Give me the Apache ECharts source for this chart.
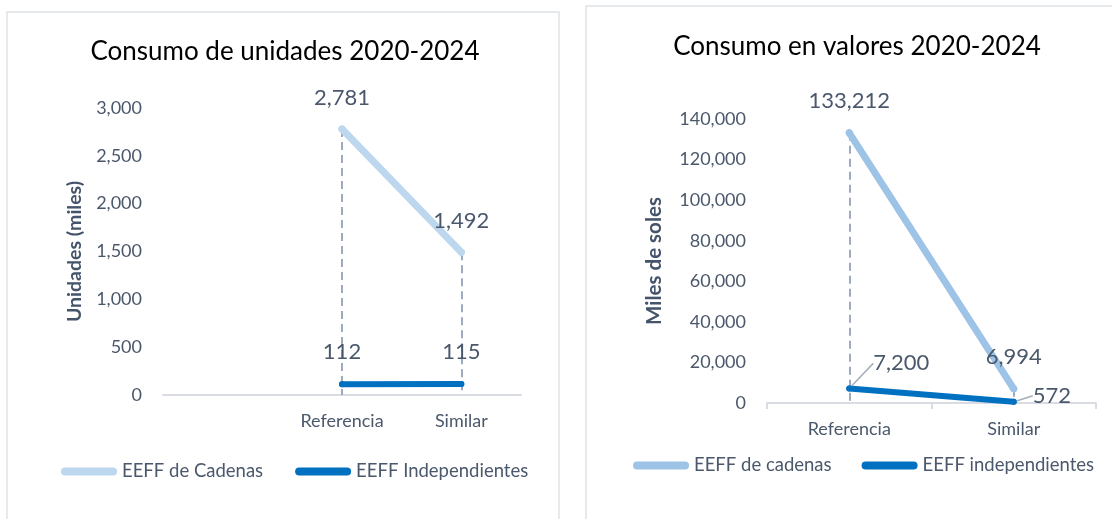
<!DOCTYPE html>
<html>
<head>
<meta charset="utf-8">
<script src="https://cdn.jsdelivr.net/npm/echarts@6/dist/echarts.min.js"></script>
<style>
html,body{margin:0;padding:0;background:#fff;}
#c{width:1112px;height:519px;}
</style>
</head>
<body>
<div id="c"></div>
<script>
// ---- Data ----
var unitsCategories = ['', 'Referencia', 'Similar'];
var unitsCadenas = [null, 2781, 1492];
var unitsIndependientes = [null, 112, 115];
var unitsTicks = {min: 0, max: 3000, interval: 500};

var valuesCategories = ['Referencia', 'Similar'];
var valuesCadenas = [133212, 6994];
var valuesIndependientes = [7200, 572];
var valuesTicks = {min: 0, max: 140000, interval: 20000};

var legendUnits = ['EEFF de Cadenas', 'EEFF Independientes'];
var legendValues = ['EEFF de cadenas', 'EEFF independientes'];

// ---- Styles ----
var FONT = 'Lato, "Open Sans", sans-serif';
var TXT = '#4b586c';
var fmt = function (v) { return Number(v).toLocaleString('en-US'); };
var pill = 'path://M4,0 H52 A4,4 0 0 1 52,8 H4 A4,4 0 0 1 4,0 Z';

function dropLines(cats, a, b) {
  var out = [];
  for (var i = 0; i < cats.length; i++) {
    if (a[i] == null) continue;
    var top = Math.max(a[i], b[i]);
    out.push([{coord: [cats[i], top]}, {coord: [cats[i], 0]}]);
  }
  return out;
}

var chart = echarts.init(document.getElementById('c'), null, {renderer: 'canvas'});

var option = {
  animation: false,
  backgroundColor: '#fff',
  textStyle: {fontFamily: FONT},
  graphic: [
    {type: 'rect', shape: {x: 7, y: 12, width: 552, height: 530}, style: {fill: 'none', stroke: '#dfe3e8', lineWidth: 1.5}, z: -10},
    {type: 'rect', shape: {x: 586, y: 6, width: 560, height: 530}, style: {fill: 'none', stroke: '#dfe3e8', lineWidth: 1.5}, z: -10}
  ],
  title: [
    {text: 'Consumo de unidades 2020-2024', left: 280, top: 34, textAlign: 'center',
     textStyle: {fontFamily: FONT, fontSize: 26, fontWeight: 'normal', color: '#000'}},
    {text: 'Consumo en valores 2020-2024', left: 852, top: 29, textAlign: 'center',
     textStyle: {fontFamily: FONT, fontSize: 26, fontWeight: 'normal', color: '#000'}}
  ],
  legend: [
    {data: legendUnits, left: 56, top: 457, itemWidth: 56, itemHeight: 8, itemGap: 32, icon: pill,
     textStyle: {fontFamily: FONT, fontSize: 18.5, color: TXT}},
    {data: legendValues, left: 628, top: 451, itemWidth: 56, itemHeight: 8, itemGap: 30, icon: pill,
     textStyle: {fontFamily: FONT, fontSize: 18.5, color: TXT}}
  ],
  grid: [
    {left: 163, right: 591, top: 108, bottom: 124},
    {left: 767, right: 16, top: 119, bottom: 116}
  ],
  xAxis: [
    {type: 'category', gridIndex: 0, data: unitsCategories, boundaryGap: true,
     axisLine: {lineStyle: {color: '#d9dde3', width: 2}}, axisTick: {show: false},
     axisLabel: {fontFamily: FONT, fontSize: 18, color: TXT, margin: 17}},
    {type: 'category', gridIndex: 1, data: valuesCategories, boundaryGap: true,
     axisLine: {lineStyle: {color: '#d9dde3', width: 2}}, axisTick: {show: true, length: 6, lineStyle: {color: '#d9dde3', width: 2}},
     axisLabel: {fontFamily: FONT, fontSize: 18, color: TXT, margin: 17}}
  ],
  yAxis: [
    {type: 'value', gridIndex: 0, min: unitsTicks.min, max: unitsTicks.max, interval: unitsTicks.interval,
     name: 'Unidades (miles)', nameLocation: 'middle', nameGap: 78, nameRotate: 90,
     nameTextStyle: {fontFamily: FONT, fontSize: 19.5, fontWeight: 'bold', color: '#44546a'},
     axisLine: {show: false}, axisTick: {show: false}, splitLine: {show: false},
     axisLabel: {fontFamily: FONT, fontSize: 18, color: TXT, margin: 21, formatter: fmt}},
    {type: 'value', gridIndex: 1, min: valuesTicks.min, max: valuesTicks.max, interval: valuesTicks.interval,
     name: 'Miles de soles', nameLocation: 'middle', nameGap: 102, nameRotate: 90,
     nameTextStyle: {fontFamily: FONT, fontSize: 20.5, fontWeight: 'bold', color: '#44546a'},
     axisLine: {show: false}, axisTick: {show: false}, splitLine: {show: false},
     axisLabel: {fontFamily: FONT, fontSize: 18, color: TXT, margin: 21, formatter: fmt}}
  ],
  series: [
    {name: legendUnits[0], type: 'line', xAxisIndex: 0, yAxisIndex: 0, data: unitsCadenas, z: 3,
     symbol: 'circle', symbolSize: 7, color: '#bdd7ee',
     lineStyle: {width: 7, color: '#bdd7ee', cap: 'round'},
     label: {show: true, position: 'top', distance: 17, fontFamily: FONT, fontSize: 22, color: TXT, formatter: function (p) { return fmt(p.value); }},
     markLine: {silent: true, symbol: 'none', label: {show: false}, z: 1,
       lineStyle: {color: '#8497b0', type: [8, 5], width: 1.6},
       data: dropLines(unitsCategories, unitsCadenas, unitsIndependientes)},
     emphasis: {disabled: true}},
    {name: legendUnits[1], type: 'line', xAxisIndex: 0, yAxisIndex: 0, data: unitsIndependientes, z: 4,
     symbol: 'circle', symbolSize: 6, color: '#0070c0',
     lineStyle: {width: 6, color: '#0070c0', cap: 'round'},
     label: {show: true, position: 'top', distance: 18, fontFamily: FONT, fontSize: 22, color: TXT, formatter: function (p) { return fmt(p.value); }},
     emphasis: {disabled: true}},
    {name: legendValues[0], type: 'line', xAxisIndex: 1, yAxisIndex: 1, data: valuesCadenas, z: 3,
     symbol: 'circle', symbolSize: 7, color: '#9dc3e6',
     lineStyle: {width: 7, color: '#9dc3e6', cap: 'round'},
     label: {show: true, position: 'top', distance: 17, fontFamily: FONT, fontSize: 22, color: TXT, formatter: function (p) { return fmt(p.value); }},
     markLine: {silent: true, symbol: 'none', label: {show: false}, z: 1,
       lineStyle: {color: '#8497b0', type: [8, 5], width: 1.6},
       data: dropLines(valuesCategories, valuesCadenas, valuesIndependientes)},
     emphasis: {disabled: true}},
    {name: legendValues[1], type: 'line', xAxisIndex: 1, yAxisIndex: 1, data: valuesIndependientes, z: 4,
     symbol: 'circle', symbolSize: 6, color: '#0070c0',
     lineStyle: {width: 6, color: '#0070c0', cap: 'round'},
     label: {show: true, position: 'right', distance: 6, fontFamily: FONT, fontSize: 22, color: TXT, formatter: function (p) { return fmt(p.value); }},
     labelLine: {show: true, lineStyle: {color: '#a6aeb8', width: 1.5}},
     labelLayout: function (p) { return p.dataIndex === 0 ? {dx: 15, dy: -25} : {dx: 10, dy: -6}; },
     emphasis: {disabled: true}}
  ]
};
chart.setOption(option);
</script>
</body>
</html>
